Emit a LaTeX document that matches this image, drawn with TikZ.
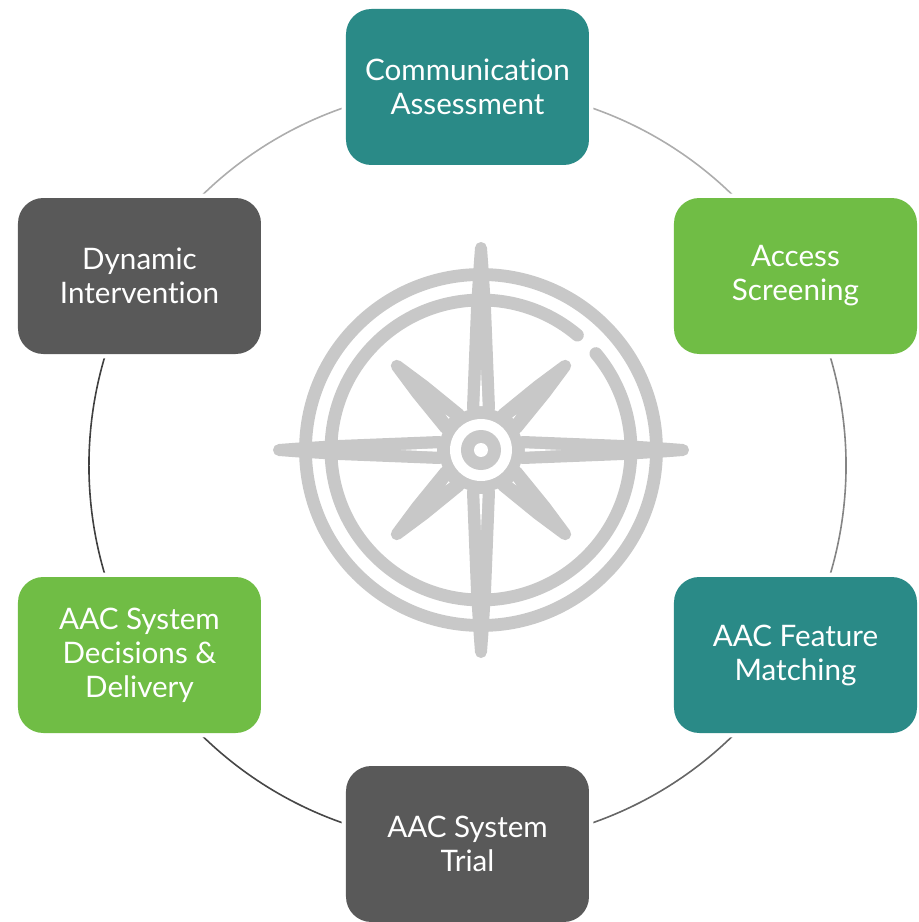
\documentclass[tikz,border=0pt]{standalone}
\usepackage{fontspec}
\setmainfont[Ligatures=CommonOff]{Lato}
\usetikzlibrary{positioning,backgrounds}
\definecolor{tealbox}{HTML}{2A8A87}
\definecolor{greenbox}{HTML}{70BD45}
\definecolor{darkbox}{HTML}{595959}
\definecolor{compassgray}{HTML}{C8C8C8}
\tikzstyle{stage} = [rounded corners=19pt, minimum width=182.25pt, minimum height=117pt, inner sep=0pt, outer sep=0pt, text=white, align=center, font=\fontsize{22.2}{25.5}\selectfont, preaction={draw=white, line width=6.5pt}]
\tikzstyle{ring} = [line width=1.2pt, bend left=30, looseness=0.912]
\tikzstyle{needle} = [fill=compassgray, draw=compassgray, line width=9pt, line join=round]

\begin{document}
\begin{tikzpicture}[x=0.75pt, y=0.75pt]
        \useasboundingbox (-467.5,465.5) rectangle (451.5,-456.5);
        % stages
        \node (comm) [stage, fill=tealbox] at (0,378.5) {Communication\\Assessment};
        \node (access) [stage, fill=greenbox, below right=24.75pt and 63.75pt of comm] {Access\\Screening};
        \node (feature) [stage, fill=tealbox, below=167.25pt of access] {AAC Feature\\Matching};
        \node (trial) [stage, fill=darkbox, below left=24.75pt and 63.75pt of feature] {AAC System\\Trial};
        \node (dynamic) [stage, fill=darkbox, below left=24.75pt and 63.75pt of comm] {Dynamic\\Intervention};
        \node (decisions) [stage, fill=greenbox, below=167.25pt of dynamic] {AAC System\\Decisions \&\\Delivery};

        % ring
        \begin{scope}[on background layer]
            \draw[ring, color=black!32] (comm.center) to (access.center);
            \draw[ring, color=black!48] (access.center) to (feature.center);
            \draw[ring, color=black!60] (feature.center) to (trial.center);
            \draw[ring, color=black!72] (trial.center) to (decisions.center);
            \draw[ring, color=black!75] (decisions.center) to (dynamic.center);
            \draw[ring, color=black!32] (dynamic.center) to (comm.center);
        \end{scope}

        % compass
        \begin{scope}[shift={(13.5,15.5)}]
            \draw[compassgray, line width=9.6pt] (0,0) circle (175.5);
            \draw[compassgray, line width=9.6pt, line cap=round] (50:150) arc[start angle=50, end angle=400, radius=150];
            % long points
            \path[needle] (0,202) -- (1.5,182) -- (4,142) -- (8,42) -- (-8,42) -- (-4,142) -- (-1.5,182) -- cycle;
            \path[needle, rotate=90] (0,202) -- (1.5,182) -- (4,142) -- (8,42) -- (-8,42) -- (-4,142) -- (-1.5,182) -- cycle;
            \path[needle, rotate=180] (0,202) -- (1.5,182) -- (4,142) -- (8,42) -- (-8,42) -- (-4,142) -- (-1.5,182) -- cycle;
            \path[needle, rotate=270] (0,202) -- (1.5,182) -- (4,142) -- (8,42) -- (-8,42) -- (-4,142) -- (-1.5,182) -- cycle;
            % short points
            \path[needle, rotate=45] (0,119) -- (5,85) -- (9.5,41) -- (-9.5,41) -- (-5,85) -- cycle;
            \path[needle, rotate=135] (0,119) -- (5,85) -- (9.5,41) -- (-9.5,41) -- (-5,85) -- cycle;
            \path[needle, rotate=225] (0,119) -- (5,85) -- (9.5,41) -- (-9.5,41) -- (-5,85) -- cycle;
            \path[needle, rotate=315] (0,119) -- (5,85) -- (9.5,41) -- (-9.5,41) -- (-5,85) -- cycle;
            % slits
            \fill[white] (0,80) -- (1.7,44) -- (-1.7,44) -- cycle;
            \fill[white, rotate=90] (0,80) -- (1.7,44) -- (-1.7,44) -- cycle;
            \fill[white, rotate=180] (0,80) -- (1.7,44) -- (-1.7,44) -- cycle;
            \fill[white, rotate=270] (0,80) -- (1.7,44) -- (-1.7,44) -- cycle;
            \fill[white, rotate=45] (0,50) -- (0.8,45) -- (-0.8,45) -- cycle;
            \fill[white, rotate=135] (0,50) -- (0.8,45) -- (-0.8,45) -- cycle;
            \fill[white, rotate=225] (0,50) -- (0.8,45) -- (-0.8,45) -- cycle;
            \fill[white, rotate=315] (0,50) -- (0.8,45) -- (-0.8,45) -- cycle;
            % hub
            \fill[compassgray] (0,0) circle (42);
            \fill[white] (0,0) circle (31);
            \fill[compassgray] (0,0) circle (20);
            \fill[white] (0,0) circle (7);
        \end{scope}
    \end{tikzpicture}
\end{document}
